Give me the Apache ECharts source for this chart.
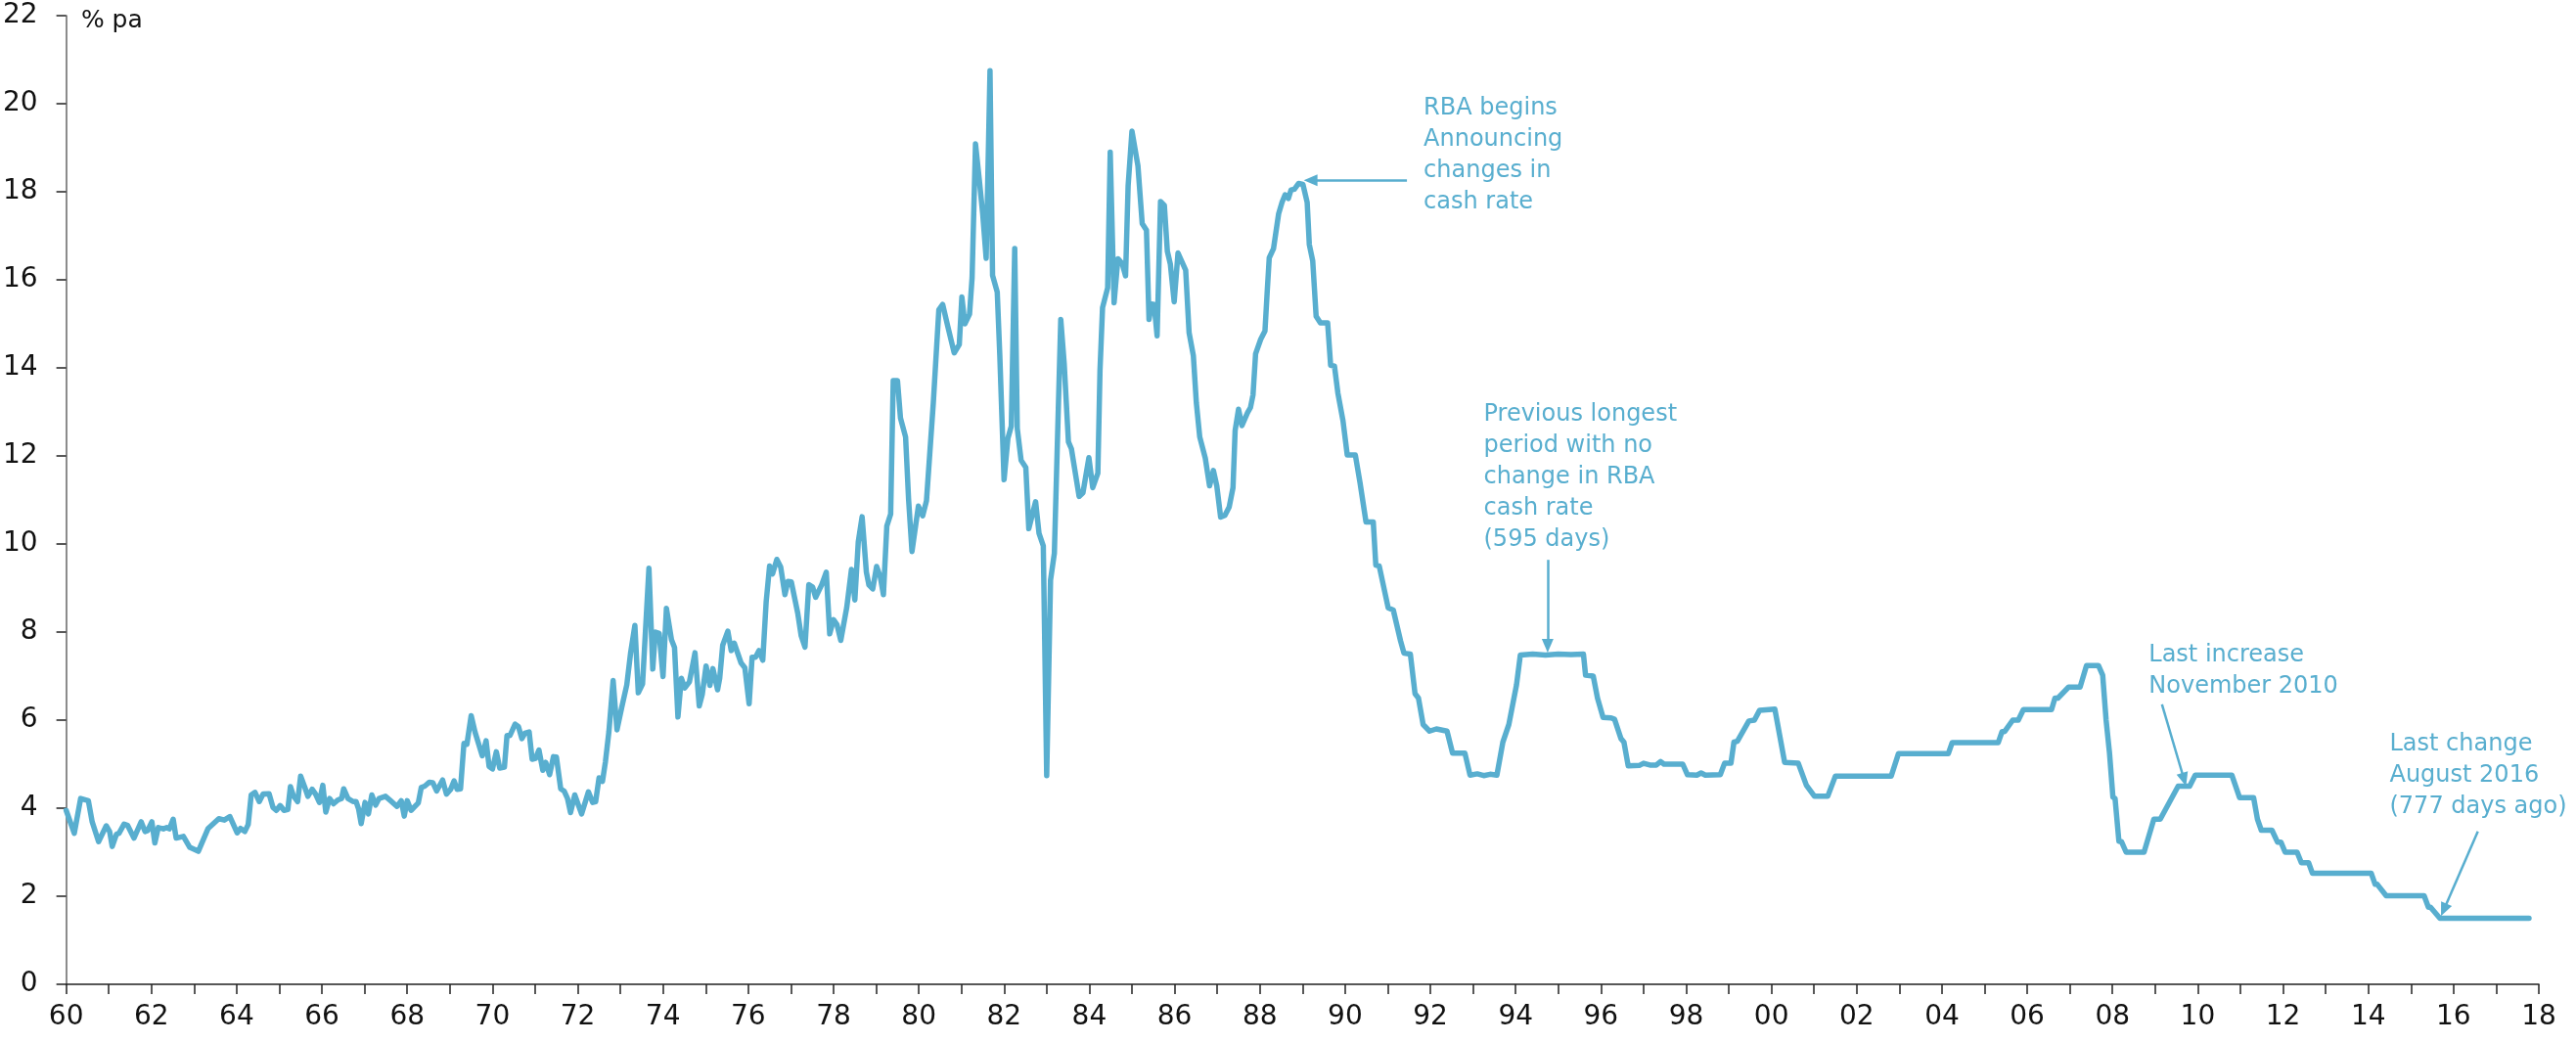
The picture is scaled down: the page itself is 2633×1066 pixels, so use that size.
<!DOCTYPE html>
<html>
<head>
<meta charset="utf-8">
<script src="https://cdn.jsdelivr.net/npm/echarts@6/dist/echarts.min.js"></script>
<style>
  html, body { margin: 0; padding: 0; background: #ffffff; }
  #chart { width: 2633px; height: 1066px; }
</style>
</head>
<body>
<div id="chart"></div>
<script>
// Cash rate, % pa  — [chart year, value]
const rate1960s = [[1960.00,3.95],[1960.19,3.43],[1960.34,4.22],[1960.52,4.17],[1960.61,3.69],[1960.76,3.24],[1960.94,3.60],[1961.02,3.47],[1961.08,3.13],[1961.18,3.41],[1961.24,3.43],[1961.36,3.64],[1961.44,3.61],[1961.59,3.32],[1961.76,3.69],[1961.85,3.47],[1961.91,3.49],[1962.01,3.69],[1962.08,3.21],[1962.16,3.56],[1962.28,3.53],[1962.36,3.56],[1962.42,3.53],[1962.51,3.75],[1962.58,3.32],[1962.75,3.36],[1962.90,3.11],[1963.10,3.02],[1963.33,3.54],[1963.58,3.76],[1963.71,3.73],[1963.84,3.81],[1964.01,3.44],[1964.09,3.54],[1964.19,3.47],[1964.27,3.63],[1964.34,4.30],[1964.43,4.36],[1964.53,4.15],[1964.62,4.32],[1964.76,4.33],[1964.85,4.02],[1964.93,3.95],[1965.02,4.06],[1965.11,3.95],[1965.20,3.97],[1965.26,4.49],[1965.33,4.28],[1965.43,4.15],[1965.50,4.73],[1965.60,4.47],[1965.67,4.27],[1965.77,4.43],[1965.85,4.32],[1965.94,4.13],[1966.02,4.52],[1966.09,3.91],[1966.18,4.22],[1966.27,4.10],[1966.38,4.19],[1966.46,4.22],[1966.51,4.44],[1966.61,4.22],[1966.73,4.15],[1966.80,4.15],[1966.86,3.98],[1966.92,3.65],[1967.01,4.13],[1967.09,3.87],[1967.17,4.30],[1967.26,4.07],[1967.34,4.22],[1967.49,4.27],[1967.61,4.17],[1967.76,4.04],[1967.86,4.17],[1967.93,3.82],[1968.00,4.17],[1968.09,3.95],[1968.26,4.12],[1968.33,4.47],[1968.41,4.50],[1968.52,4.59],[1968.60,4.58],[1968.69,4.39],[1968.83,4.64],[1968.92,4.32],[1969.02,4.43],[1969.10,4.62],[1969.17,4.43],[1969.25,4.44],[1969.33,5.47],[1969.40,5.45],[1969.50,6.10],[1969.59,5.73],[1969.76,5.19],[1969.85,5.53],[1969.92,4.95]];

const rate1970s = [[1970.00,4.89],[1970.09,5.28],[1970.17,4.91],[1970.28,4.93],[1970.34,5.65],[1970.41,5.65],[1970.53,5.91],[1970.61,5.85],[1970.69,5.58],[1970.76,5.70],[1970.86,5.73],[1970.93,5.11],[1971.01,5.13],[1971.09,5.32],[1971.18,4.86],[1971.25,5.04],[1971.34,4.76],[1971.43,5.17],[1971.50,5.16],[1971.60,4.44],[1971.68,4.39],[1971.76,4.22],[1971.83,3.90],[1971.93,4.30],[1972.09,3.87],[1972.25,4.37],[1972.35,4.13],[1972.42,4.15],[1972.50,4.69],[1972.58,4.61],[1972.65,5.06],[1972.73,5.73],[1972.83,6.90],[1972.92,5.78],[1973.03,6.28],[1973.15,6.80],[1973.24,7.53],[1973.34,8.15],[1973.42,6.62],[1973.52,6.82],[1973.67,9.45],[1973.76,7.16],[1973.82,8.00],[1973.91,7.97],[1974.00,6.99],[1974.08,8.54],[1974.20,7.82],[1974.27,7.65],[1974.35,6.07],[1974.43,6.95],[1974.51,6.73],[1974.62,6.87],[1974.75,7.53],[1974.85,6.32],[1974.92,6.58],[1975.01,7.23],[1975.10,6.79],[1975.17,7.17],[1975.28,6.69],[1975.33,6.95],[1975.40,7.70],[1975.52,8.02],[1975.60,7.58],[1975.67,7.75],[1975.83,7.30],[1975.92,7.19],[1976.02,6.37],[1976.09,7.43],[1976.17,7.43],[1976.25,7.58],[1976.34,7.36],[1976.42,8.69],[1976.50,9.50],[1976.57,9.32],[1976.67,9.65],[1976.76,9.48],[1976.86,8.85],[1976.93,9.15],[1977.01,9.14],[1977.16,8.43],[1977.24,7.92],[1977.33,7.66],[1977.42,9.08],[1977.51,9.02],[1977.58,8.79],[1977.72,9.07],[1977.83,9.36],[1977.91,7.96],[1978.00,8.28],[1978.08,8.17],[1978.17,7.81],[1978.31,8.56],[1978.42,9.42],[1978.50,8.73],[1978.58,10.05],[1978.67,10.62],[1978.77,9.36],[1978.83,9.07],[1978.92,8.98],[1979.01,9.49],[1979.10,9.24],[1979.17,8.85],[1979.25,10.41],[1979.34,10.68],[1979.40,13.71],[1979.50,13.71],[1979.57,12.86],[1979.69,12.43],[1979.76,11.02],[1979.84,9.83],[1979.99,10.86]];

const rate1980s = [[1980.09,10.64],[1980.18,10.98],[1980.34,13.20],[1980.47,15.32],[1980.56,15.44],[1980.68,14.94],[1980.83,14.34],[1980.95,14.53],[1981.01,15.61],[1981.08,15.00],[1981.19,15.22],[1981.25,16.05],[1981.33,19.09],[1981.42,18.26],[1981.50,17.49],[1981.58,16.49],[1981.67,20.75],[1981.73,16.10],[1981.84,15.72],[1981.90,14.28],[1982.00,11.46],[1982.09,12.40],[1982.17,12.68],[1982.25,16.71],[1982.31,12.62],[1982.40,11.90],[1982.51,11.74],[1982.58,10.35],[1982.74,10.96],[1982.82,10.24],[1982.92,9.96],[1983.00,4.74],[1983.09,9.18],[1983.18,9.79],[1983.33,15.10],[1983.41,14.10],[1983.51,12.32],[1983.58,12.16],[1983.76,11.08],[1983.85,11.16],[1983.99,11.96],[1984.08,11.28],[1984.20,11.61],[1984.25,13.94],[1984.31,15.37],[1984.43,15.82],[1984.49,18.90],[1984.58,15.48],[1984.67,16.48],[1984.77,16.37],[1984.85,16.09],[1984.91,18.14],[1985.00,19.38],[1985.14,18.59],[1985.24,17.28],[1985.34,17.13],[1985.40,15.10],[1985.46,15.45],[1985.52,15.44],[1985.59,14.73],[1985.67,17.78],[1985.76,17.69],[1985.83,16.65],[1985.90,16.36],[1985.99,15.50],[1986.08,16.61],[1986.26,16.22],[1986.34,14.80],[1986.44,14.28],[1986.51,13.21],[1986.59,12.43],[1986.72,11.95],[1986.82,11.32],[1986.91,11.67],[1986.99,11.32],[1987.08,10.61],[1987.18,10.65],[1987.28,10.84],[1987.37,11.28],[1987.42,12.58],[1987.50,13.06],[1987.58,12.69],[1987.71,12.98],[1987.78,13.10],[1987.84,13.39],[1987.90,14.32],[1988.02,14.65],[1988.12,14.84],[1988.17,15.69],[1988.22,16.50],[1988.32,16.71],[1988.44,17.50],[1988.52,17.76],[1988.59,17.93],[1988.67,17.85],[1988.73,18.04],[1988.81,18.06],[1988.91,18.19],[1989.01,18.17],[1989.11,17.76],[1989.16,16.80],[1989.24,16.43],[1989.32,15.17],[1989.42,15.02],[1989.59,15.02],[1989.66,14.06],[1989.75,14.04],[1989.83,13.43],[1989.95,12.80]];

const rate1990s = [[1990.05,12.02],[1990.24,12.02],[1990.35,11.39],[1990.49,10.50],[1990.66,10.50],[1990.72,9.52],[1990.80,9.50],[1991.01,8.55],[1991.13,8.50],[1991.30,7.80],[1991.38,7.52],[1991.53,7.50],[1991.64,6.60],[1991.72,6.50],[1991.83,5.90],[1991.98,5.75],[1992.14,5.80],[1992.39,5.75],[1992.52,5.25],[1992.81,5.25],[1992.93,4.75],[1993.10,4.78],[1993.25,4.74],[1993.40,4.77],[1993.56,4.75],[1993.70,5.50],[1993.84,5.90],[1994.02,6.80],[1994.11,7.48],[1994.40,7.50],[1994.70,7.48],[1995.00,7.50],[1995.30,7.49],[1995.59,7.50],[1995.64,7.02],[1995.82,7.00],[1995.92,6.50],[1996.05,6.06],[1996.24,6.05],[1996.32,6.02],[1996.47,5.58],[1996.54,5.50],[1996.64,4.96],[1996.90,4.97],[1997.00,5.02],[1997.15,4.98],[1997.30,4.98],[1997.40,5.06],[1997.48,5.00],[1997.92,5.00],[1998.03,4.76],[1998.25,4.75],[1998.35,4.80],[1998.45,4.75],[1998.80,4.76],[1998.90,5.02],[1999.05,5.02],[1999.12,5.50],[1999.20,5.52],[1999.47,5.98],[1999.60,6.00],[1999.72,6.22]];

const rate2000s = [[2000.08,6.25],[2000.31,5.04],[2000.63,5.02],[2000.82,4.52],[2001.01,4.27],[2001.32,4.27],[2001.50,4.73],[2002.81,4.73],[2002.98,5.24],[2004.15,5.24],[2004.24,5.49],[2005.32,5.49],[2005.41,5.74],[2005.47,5.74],[2005.66,6.00],[2005.79,6.00],[2005.91,6.24],[2006.57,6.24],[2006.65,6.50],[2006.72,6.50],[2006.97,6.75],[2007.24,6.75],[2007.39,7.24],[2007.67,7.24],[2007.77,7.02],[2007.85,6.00],[2007.93,5.25],[2008.01,4.25],[2008.06,4.22],[2008.15,3.25],[2008.21,3.24],[2008.32,3.00],[2008.74,3.00],[2008.97,3.75],[2009.12,3.75],[2009.54,4.50],[2009.81,4.50],[2009.94,4.75]];

const rate2010s = [[2010.80,4.75],[2010.98,4.24],[2011.31,4.24],[2011.40,3.75],[2011.49,3.50],[2011.74,3.50],[2011.87,3.23],[2011.95,3.23],[2012.05,3.00],[2012.33,3.00],[2012.43,2.76],[2012.60,2.76],[2012.69,2.52],[2014.07,2.52],[2014.16,2.27],[2014.21,2.27],[2014.42,2.01],[2015.31,2.01],[2015.41,1.75],[2015.46,1.75],[2015.68,1.50],[2017.77,1.50]];

// Annotations: text anchor (top-left) and arrow [from, to], in data coordinates
const notes = [
  { lines: ['RBA begins', 'Announcing', 'changes in', 'cash rate'], at: [1991.84, 20.24], arrow: [[1991.45, 18.26], [1989.19, 18.26]] },
  { lines: ['Previous longest', 'period with no', 'change in RBA', 'cash rate', '(595 days)'], at: [1993.25, 13.29], arrow: [[1994.75, 9.64], [1994.75, 7.69]] },
  { lines: ['Last increase', 'November 2010'], at: [2008.85, 7.82], arrow: [[2009.16, 6.36], [2009.68, 4.65]] },
  { lines: ['Last change', 'August 2016', '(777 days ago)'], at: [2014.50, 5.81], arrow: [[2016.57, 3.47], [2015.77, 1.69]] }
];

const yTicks = { min: 0, max: 22, step: 2 };
const xTicks = { min: 1960, max: 2018, step: 1 };
const unitLabel = { text: '% pa', at: [1960.35, 22.15] };

const LINE = '#58AECF';
const FONT = 'DejaVu Sans';

const allData = [].concat(rate1960s, rate1970s, rate1980s, rate1990s, rate2000s, rate2010s);

const chart = echarts.init(document.getElementById('chart'), null, { renderer: 'canvas' });

const option = {
  animation: false,
  backgroundColor: '#ffffff',
  grid: { left: 67, right: 38, top: 16, bottom: 60 },
  xAxis: {
    type: 'value',
    min: xTicks.min, max: xTicks.max, interval: xTicks.step,
    axisLine: { lineStyle: { color: '#222', width: 1.5 } },
    axisTick: { length: 10, lineStyle: { color: '#222', width: 1.5 } },
    splitLine: { show: false },
    axisLabel: {
      margin: 20,
      color: '#111',
      fontFamily: FONT,
      fontSize: 28,
      formatter: v => (v % 2 === 0 ? String(v).slice(2) : '')
    }
  },
  yAxis: {
    type: 'value',
    min: yTicks.min, max: yTicks.max, interval: yTicks.step,
    axisLine: { show: true, lineStyle: { color: '#666', width: 1.5 } },
    axisTick: { show: true, length: 10, lineStyle: { color: '#222', width: 1.5 } },
    splitLine: { show: false },
    axisLabel: { margin: 29, color: '#111', fontFamily: FONT, fontSize: 28 }
  },
  series: [{
    type: 'line',
    data: allData,
    showSymbol: false,
    symbol: 'none',
    lineStyle: { color: LINE, width: 5.5, join: 'round', cap: 'round' },
    itemStyle: { color: LINE },
    z: 3,
    markLine: {
      silent: true,
      animation: false,
      symbol: ['none', 'triangle'],
      symbolSize: [12, 14],
      lineStyle: { color: LINE, width: 2.5, type: 'solid' },
      label: { show: false },
      data: notes.map(n => [{ coord: n.arrow[0] }, { coord: n.arrow[1] }])
    }
  }]
};
chart.setOption(option);

const up = chart.convertToPixel({ gridIndex: 0 }, unitLabel.at);
const graphics = [{
  type: 'text', x: up[0], y: up[1],
  style: { text: unitLabel.text, fill: '#111', font: '25px "' + FONT + '"', verticalAlign: 'top', align: 'left' }
}];
notes.forEach(n => {
  const p = chart.convertToPixel({ gridIndex: 0 }, n.at);
  graphics.push({
    type: 'text', x: p[0], y: p[1],
    style: {
      text: n.lines.join('\n'),
      fill: LINE,
      font: '24px "' + FONT + '"',
      lineHeight: 32,
      verticalAlign: 'top',
      align: 'left'
    }
  });
});
chart.setOption({ graphic: graphics });
</script>
</body>
</html>
